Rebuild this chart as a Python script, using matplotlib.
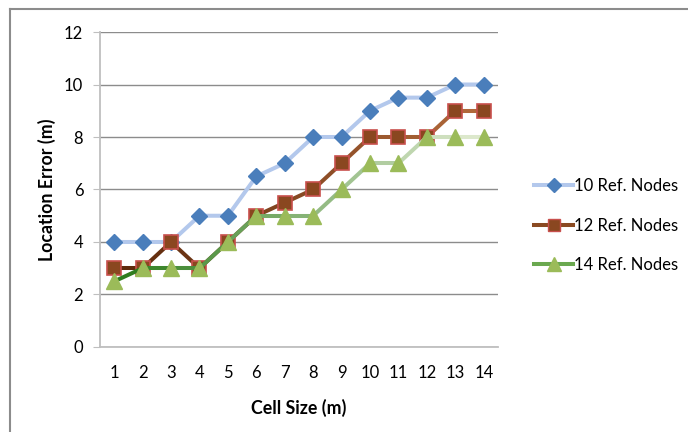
import matplotlib.pyplot as plt
import numpy as np
from matplotlib.collections import LineCollection
from matplotlib.lines import Line2D
from matplotlib.colors import to_rgb

plt.rcParams['font.family'] = ['Lato', 'DejaVu Sans']

cell_size = [1, 2, 3, 4, 5, 6, 7, 8, 9, 10, 11, 12, 13, 14]
nodes_10 = [4, 4, 4, 5, 5, 6.5, 7, 8, 8, 9, 9.5, 9.5, 10, 10]
nodes_12 = [3, 3, 4, 3, 4, 5, 5.5, 6, 7, 8, 8, 8, 9, 9]
nodes_14 = [2.5, 3, 3, 3, 4, 5, 5, 5, 6, 7, 7, 8, 8, 8]
labels = ['10 Ref. Nodes', '12 Ref. Nodes', '14 Ref. Nodes']


def gradient_line(ax, x, y, c_start, c_end, lw, z):
    pts = np.column_stack([x, y]).reshape(-1, 1, 2)
    segs = np.concatenate([pts[:-1], pts[1:]], axis=1)
    a, b = np.array(to_rgb(c_start)), np.array(to_rgb(c_end))
    t = np.linspace(0, 1, len(segs))
    cols = [a + (b - a) * ti for ti in t]
    lc = LineCollection(segs, colors=cols, linewidths=lw, zorder=z, capstyle='round')
    ax.add_collection(lc)


fig = plt.figure(figsize=(6.88, 4.32), dpi=100)
ax = fig.add_axes([0.1453, 0.1968, 0.5785, 0.7291])

lw = 2.9
ax.plot(cell_size, nodes_10, color='#b3c8ec', lw=lw, zorder=3)
ax.plot(cell_size, nodes_10, ls='none', marker='D', ms=8, color='#4a7ebb', zorder=4)

gradient_line(ax, cell_size, nodes_12, '#5e2a0c', '#b0683a', lw, 5)
ax.plot(cell_size, nodes_12, ls='none', marker='s', ms=10, mfc='#8a4720',
        mec='#c8504d', mew=1.2, zorder=6)

gradient_line(ax, cell_size, nodes_14, '#2f7d1f', '#dce8cc', lw, 7)
ax.plot(cell_size, nodes_14, ls='none', marker='^', ms=11, color='#9bbb59', zorder=8)

ax.set_xlim(0.5, 14.5)
ax.set_ylim(0, 12)
ax.set_yticks(range(0, 13, 2))
ax.set_xticks(cell_size)
ax.grid(axis='y', color='#8c8c8c', lw=1)
ax.set_axisbelow(True)
for s in ['top', 'right']:
    ax.spines[s].set_visible(False)
for s in ['left', 'bottom']:
    ax.spines[s].set_color('#bfbfbf')
    ax.spines[s].set_linewidth(1.3)
ax.tick_params(axis='y', length=5, color='#bfbfbf', labelsize=12, pad=7)
ax.tick_params(axis='x', length=0, labelsize=12, pad=13)

ax.set_xlabel('Cell Size (m)', fontsize=12.8, fontweight='bold', labelpad=13)
ax.set_ylabel('Location Error (m)', fontsize=12.8, fontweight='bold', labelpad=6)

handles = [
    Line2D([], [], color='#b3c8ec', lw=lw, marker='D', ms=7, mfc='#4a7ebb', mec='#4a7ebb'),
    Line2D([], [], color='#8a4a22', lw=lw, marker='s', ms=9, mfc='#8a4720', mec='#c8504d'),
    Line2D([], [], color='#6aa84f', lw=lw, marker='^', ms=10, mfc='#9bbb59', mec='#9bbb59'),
]
fig.legend(handles, labels, loc='center left', bbox_to_anchor=(0.755, 0.478),
           frameon=False, fontsize=12, handlelength=2.3, handletextpad=0.1,
           labelspacing=1.4)

# outer chart border (left and top only visible)
fig.add_artist(Line2D([10 / 688, 10 / 688], [0, 1 - 9 / 432], color='#8c8c8c', lw=1.5,
                      transform=fig.transFigure))
fig.add_artist(Line2D([10 / 688, 1], [1 - 9 / 432, 1 - 9 / 432], color='#8c8c8c', lw=1.5,
                      transform=fig.transFigure))

fig.savefig('out.png', dpi=100)
